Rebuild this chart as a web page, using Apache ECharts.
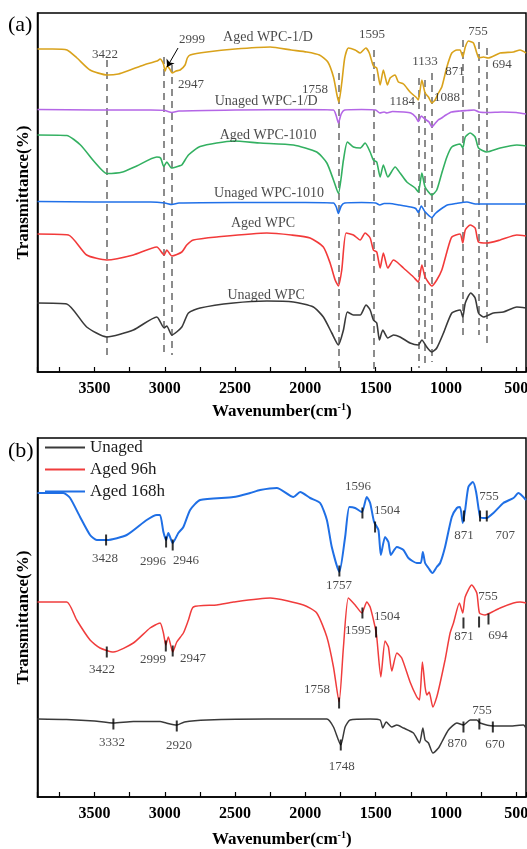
<!DOCTYPE html>
<html><head><meta charset="utf-8">
<script src="https://cdn.jsdelivr.net/npm/echarts@6/dist/echarts.min.js"></script>
<style>html,body{margin:0;padding:0;background:#fff}#c{width:527px;height:849px}</style>
</head><body><div id="c"></div>
<script>
const FONT = '"Liberation Serif", "Times New Roman", serif';
const xTickLabels = [3500, 3000, 2500, 2000, 1500, 1000, 500];

// ---------- panel (a) spectra: [wavenumber, transmittance (a.u., offset)] ----------
const agedWPC1D = [[3906,323],[3800,323],[3696,322],[3625,314],[3532,302],[3411,297],[3330,298],[3247,302],[3150,307],[3055,311],[3034,313],[3010,308],[2998,301],[2984,306],[2965,303],[2948,299],[2920,301],[2891,302],[2856,307],[2840,314],[2820,317],[2700,320],[2500,323],[2250,325],[2100,322],[1990,320],[1900,317],[1840,310],[1800,295],[1775,277],[1762,270],[1741,289],[1720,314],[1694,324],[1646,322],[1610,319],[1570,324],[1545,319],[1516,306],[1492,304],[1468,287],[1445,302],[1430,294],[1416,287],[1397,294],[1362,297],[1338,290],[1302,288],[1255,280],[1207,274],[1196,272],[1171,292],[1148,279],[1124,275],[1100,269],[1077,272],[1053,279],[1029,285],[993,305],[958,319],[922,322],[899,322],[880,315],[862,325],[840,331],[804,329],[780,319],[765,314],[733,315],[700,314],[614,319],[519,320],[472,322],[430,319]];
const unagedWPC1D = [[3906,262.5],[3500,262],[3100,262],[3000,261.5],[2950,259.5],[2900,261],[2500,262],[2000,262.5],[1800,262],[1780,256],[1765,249],[1745,258],[1720,262],[1600,262.5],[1500,262],[1470,259],[1440,260],[1420,259],[1380,260.5],[1300,260],[1250,259],[1215,255],[1196,250.5],[1175,256],[1150,253],[1120,250],[1100,245],[1080,248],[1055,252],[1030,254],[1000,257],[960,260],[900,261],[850,261.5],[800,262],[765,260],[700,259.5],[600,260],[500,259.5],[430,258]];
const agedWPC1010 = [[3906,237],[3698,236.5],[3600,227],[3500,210],[3413,198.5],[3300,200],[3200,206],[3057,215],[3030,214],[3008,205.5],[2986,210],[2953,204],[2900,206],[2879,207],[2832,217],[2749,225.5],[2512,231],[2322,229],[2085,227],[1919,220],[1847,209],[1800,192],[1765,178.5],[1729,212],[1701,230],[1658,225],[1610,224],[1575,229],[1539,220],[1516,212],[1492,210],[1468,195],[1445,207],[1413,195],[1361,205],[1326,199],[1278,190],[1219,184],[1196,180],[1171,199],[1148,185],[1100,177],[1065,182],[1029,199],[993,215],[958,225],[899,228],[880,224],[862,235],[827,239],[792,235],[768,224],[709,220],[614,224],[495,227],[430,226]];
const unagedWPC1010 = [[3906,170.5],[3500,170],[3100,170],[3000,169],[2950,167.5],[2900,169],[2500,169.5],[2000,169.5],[1800,169],[1780,165],[1765,158.5],[1745,166],[1720,169],[1600,169.5],[1500,169],[1470,167],[1440,168.5],[1400,168.5],[1330,167],[1250,165],[1215,163.5],[1196,159.5],[1175,166],[1150,160.5],[1100,154.5],[1075,158.5],[1040,162.5],[990,167],[930,168.5],[850,170],[790,168],[700,168],[600,168],[430,168]];
const agedWPC = [[3906,138],[3686,137],[3556,117],[3413,112],[3224,117],[3057,125],[3005,117],[2986,122],[2950,116],[2879,120],[2844,127],[2797,132],[2630,135],[2274,139],[2100,137],[1966,134],[1872,125],[1824,109],[1788,92],[1765,86],[1741,102],[1710,139],[1658,137],[1610,132],[1575,139],[1539,134],[1516,122],[1492,120],[1468,104],[1445,119],[1413,104],[1373,112],[1349,110],[1302,104],[1231,95],[1196,90],[1171,107],[1148,95],[1100,86],[1065,92],[1029,102],[993,120],[958,135],[899,138],[880,129],[862,142],[827,147],[792,144],[768,130],[709,129],[614,132],[495,137],[430,136]];
const unagedWPC = [[3906,69],[3698,68],[3556,45],[3413,35],[3224,42],[3057,55],[3005,44],[2986,46],[2950,37],[2879,45],[2832,59],[2749,64],[2512,69],[2274,71],[2085,70],[1943,65],[1872,55],[1812,39],[1765,27],[1729,42],[1701,60],[1658,57],[1610,57],[1568,67],[1539,62],[1516,52],[1492,49],[1473,32],[1449,42],[1413,34],[1373,37],[1326,35],[1255,29],[1196,27],[1171,32],[1136,25],[1100,20],[1065,24],[1017,39],[958,59],[899,62],[880,55],[862,69],[823,79],[792,74],[768,59],[733,55],[662,59],[591,60],[495,65],[430,64]];

// ---------- panel (b) spectra ----------
const unaged = [[3906,78],[3700,77.5],[3500,76],[3366,74],[3224,75.5],[3034,75.5],[2990,74],[2915,72],[2860,75],[2700,77],[2274,78],[2000,78],[1847,78],[1800,70],[1748,52],[1717,70],[1682,77],[1539,78],[1468,77],[1449,69],[1425,75],[1385,70],[1349,72],[1302,69],[1231,64],[1188,54],[1164,69],[1148,57],[1124,54],[1093,44],[1053,49],[1029,55],[982,67],[922,74],[875,72],[827,77],[780,77],[757,74],[662,71],[543,71],[448,72],[430,69]];
const aged96h = [[3906,195],[3698,195],[3627,177],[3532,157],[3461,149],[3366,145],[3224,154],[3105,169],[3034,174],[3010,164],[2993,152],[2975,160],[2944,145],[2915,155],[2868,164],[2832,177],[2797,190],[2630,192],[2512,195],[2251,199],[2014,192],[1919,184],[1847,160],[1800,130],[1760,95],[1729,150],[1694,199],[1646,192],[1598,184],[1563,195],[1539,190],[1504,170],[1492,160],[1463,120],[1433,156],[1409,150],[1385,126],[1349,144],[1314,139],[1255,115],[1207,100],[1188,97],[1167,135],[1148,110],[1136,102],[1119,105],[1093,90],[1065,100],[1041,114],[1006,137],[970,164],[946,174],[904,194],[880,184],[863,200],[816,212],[780,204],[761,184],[721,182],[685,184],[614,189],[519,194],[472,195],[430,194]];
const aged168h = [[3906,304],[3722,304],[3674,299],[3603,280],[3532,262],[3484,257],[3413,257],[3271,262],[3129,277],[3057,282],[3034,282],[3010,265],[2991,257],[2975,264],[2944,254],[2904,264],[2868,270],[2820,287],[2749,297],[2512,300],[2393,304],[2322,307],[2203,309],[2085,300],[2037,305],[1966,299],[1895,294],[1847,277],[1812,250],[1758,225],[1717,260],[1687,290],[1646,289],[1598,285],[1563,300],[1539,294],[1511,275],[1480,267],[1463,242],[1433,260],[1409,255],[1392,242],[1349,250],[1302,247],[1267,239],[1207,234],[1179,234],[1164,245],[1148,234],[1124,229],[1096,224],[1065,230],[1041,234],[1006,250],[958,280],[922,289],[899,290],[880,274],[863,287],[840,310],[808,315],[785,305],[757,280],[733,279],[709,279],[662,284],[591,294],[519,299],[484,304],[430,297]];

// ---------- annotations ----------
const guideLinesA = [[3410,312,17],[3008,315,17],[2953,307,17],[1765,299,4],[1516,322,0],[1196,294,4],[1153,292,6],[1100,299,10],[882,332,32],[768,330,37],[709,324,29]];
const peakLabelsA = [[3425,317,'3422'],[2806,332,'2999'],[2813,287,'2947'],[1931,282,'1758'],[1525,337,'1595'],[1148,310,'1133'],[1311,270,'1184'],[992,274,'1088'],[935,300,'871'],[771,340,'755'],[600,307,'694']];
const seriesLabelsA = [[2266,335,'Aged WPC-1/D'],[2279,271,'Unaged WPC-1/D'],[2265,237,'Aged WPC-1010'],[2258,179,'Unaged WPC-1010'],[2301,149,'Aged WPC'],[2279,77,'Unaged WPC']];
const arrowA = [[2906,324],[2984,305]];
const peakTicksB = [[3418,257],[2991,255],[2944,252],[1758,226],[1594,284],[1504,270],[872,281],[757,281],[709,281],
                    [3413,145],[2993,151],[2944,146],[1760,94],[1594,184],[1497,165],[875,174],[764,175],[697,178],
                    [3366,73],[2915,71],[1748,52],[875,70],[762,73],[666,70]];
const peakLabelsB = [[3425,238,'3428'],[3084,235,'2996'],[2849,236,'2946'],[1760,211,'1757'],[1625,310,'1596'],[1419,286,'1504'],[871,261,'871'],[693,300,'755'],[578,261,'707'],
                     [3447,127,'3422'],[3084,137,'2999'],[2799,138,'2947'],[1917,107,'1758'],[1625,166,'1595'],[1419,180,'1504'],[871,160,'871'],[700,200,'755'],[629,161,'694'],
                     [3375,54,'3332'],[2899,51,'2920'],[1741,30,'1748'],[920,53,'870'],[743,86,'755'],[650,52,'670']];
const legendNames = ['Unaged', 'Aged 96h', 'Aged 168h'];

const chart = echarts.init(document.getElementById('c'), null, {renderer:'canvas', width:527, height:849});

function xAx(gi, gap) {
  return {
    type:'value', gridIndex:gi, inverse:true, min:430, max:3906, minInterval:250, maxInterval:250,
    axisLine:{show:true, onZero:false, lineStyle:{color:'#000', width:1.5}},
    axisTick:{show:true, inside:true, length:5, lineStyle:{color:'#000', width:1.2}},
    axisLabel:{margin:9, color:'#000', fontFamily:FONT, fontWeight:'bold', fontSize:16,
      formatter: v => xTickLabels.includes(v) ? String(v) : ''},
    splitLine:{show:false},
    name:'Wavenumber(cm{sup|-1})', nameLocation:'middle', nameGap:gap,
    nameTextStyle:{color:'#000', fontFamily:FONT, fontWeight:'bold', fontSize:17,
      rich:{sup:{fontFamily:FONT, fontWeight:'bold', fontSize:10, padding:[0,0,9,0]}}}
  };
}
function yAx(gi) {
  return {
    type:'value', gridIndex:gi, min:0, max:359,
    axisLine:{show:true, onZero:false, lineStyle:{color:'#000', width:1.5}},
    axisTick:{show:false}, axisLabel:{show:false}, splitLine:{show:false},
    name:'Transmittance(%)', nameLocation:'middle', nameGap:5, nameRotate:90,
    nameTextStyle:{color:'#000', fontFamily:FONT, fontWeight:'bold', fontSize:17}
  };
}
function spec(name, data, color, width, gi) {
  return {type:'line', name, xAxisIndex:gi, yAxisIndex:gi, data, showSymbol:false, symbol:'none',
    smooth:0.2, lineStyle:{color, width}, itemStyle:{color}, z:3, silent:true};
}
function texts(arr, gi, size) {
  return {type:'scatter', xAxisIndex:gi, yAxisIndex:gi, symbolSize:0, silent:true, z:5,
    data: arr.map(d => ({value:[d[0], d[1]], label:{formatter:d[2]}})),
    label:{show:true, position:'inside', color:'#1a1a1a', fontFamily:FONT, fontSize:size}};
}

const option = {
  animation:false,
  backgroundColor:'#fff',
  grid:[
    {left:37.5, top:13, width:488.5, height:359, show:true, borderColor:'#000', borderWidth:1.5, containLabel:false, outerBoundsMode:'none'},
    {left:37.5, top:438, width:488.5, height:359, show:true, borderColor:'#000', borderWidth:1.5, containLabel:false, outerBoundsMode:'none'}
  ],
  xAxis:[xAx(0, 30), xAx(1, 33)],
  yAxis:[yAx(0), yAx(1)],
  legend:{
    data:legendNames, orient:'vertical', left:40, top:434,
    itemWidth:40, itemHeight:2, itemGap:5, icon:'rect',
    textStyle:{color:'#1a1a1a', fontFamily:FONT, fontSize:17},
    selectedMode:false
  },
  graphic:[
    {type:'text', left:8, top:14, style:{text:'(a)', font:'22px "Liberation Serif"', fill:'#000'}},
    {type:'text', left:8, top:440, style:{text:'(b)', font:'22px "Liberation Serif"', fill:'#000'}}
  ],
  series:[
    {type:'lines', coordinateSystem:'cartesian2d', xAxisIndex:0, yAxisIndex:0, silent:true, z:1,
      data: guideLinesA.map(d => ({coords:[[d[0], d[1]], [d[0], d[2]]]})),
      lineStyle:{color:'#8c8c8c', width:2, type:[7,5], opacity:1}},
    spec('Aged WPC-1/D', agedWPC1D, '#D9A21B', 1.6, 0),
    spec('Unaged WPC-1/D', unagedWPC1D, '#B466E6', 1.6, 0),
    spec('Aged WPC-1010', agedWPC1010, '#33B061', 1.6, 0),
    spec('Unaged WPC-1010', unagedWPC1010, '#2070E8', 1.6, 0),
    spec('Aged WPC', agedWPC, '#F23A3A', 1.6, 0),
    spec('Unaged WPC', unagedWPC, '#3A3A3A', 1.6, 0),
    texts(peakLabelsA, 0, 13),
    texts(seriesLabelsA, 0, 14),
    {type:'lines', coordinateSystem:'cartesian2d', xAxisIndex:0, yAxisIndex:0, silent:true, z:6,
      symbol:['none','arrow'], symbolSize:7,
      data:[{coords:arrowA}], lineStyle:{color:'#000', width:1, opacity:1}},
    spec(legendNames[0], unaged, '#3A3A3A', 1.5, 1),
    spec(legendNames[1], aged96h, '#F03C3C', 1.5, 1),
    spec(legendNames[2], aged168h, '#1F6FE5', 2, 1),
    {type:'scatter', xAxisIndex:1, yAxisIndex:1, symbol:'rect', symbolSize:[2,11], silent:true, z:6,
      itemStyle:{color:'#000'}, data:peakTicksB},
    texts(peakLabelsB, 1, 13)
  ]
};
chart.setOption(option);
</script>
</body></html>
